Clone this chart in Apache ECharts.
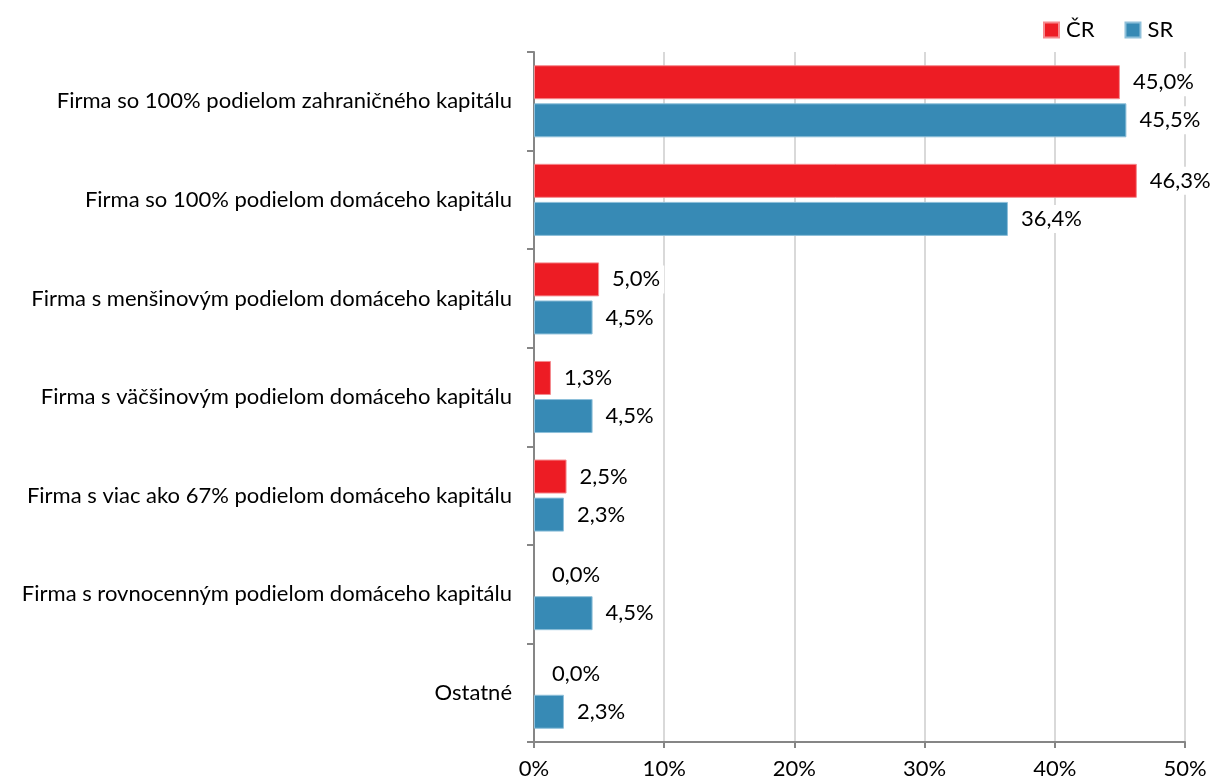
<!DOCTYPE html>
<html>
<head>
<meta charset="utf-8">
<script src="https://cdn.jsdelivr.net/npm/echarts@6/dist/echarts.min.js"></script>
<style>
  html, body { margin: 0; padding: 0; background: #fff; }
  #chart { width: 1215px; height: 782px; }
</style>
</head>
<body>
<div id="chart"></div>
<script>
// kategórie (zhora nadol)
var categories = [
  'Firma so 100% podielom zahraničného kapitálu',
  'Firma so 100% podielom domáceho kapitálu',
  'Firma s menšinovým podielom domáceho kapitálu',
  'Firma s väčšinovým podielom domáceho kapitálu',
  'Firma s viac ako 67% podielom domáceho kapitálu',
  'Firma s rovnocenným podielom domáceho kapitálu',
  'Ostatné'
];
var crValues = [45.0, 46.3, 5.0, 1.3, 2.5, 0.0, 0.0];
var srValues = [45.5, 36.4, 4.5, 4.5, 2.3, 4.5, 2.3];
var xTicks = [0, 10, 20, 30, 40, 50];

var font = 'Lato';

var labelStyle = {
  show: true,
  position: 'right',
  distance: 9,
  color: '#000',
  fontFamily: font,
  fontSize: 22,
  backgroundColor: '#fff',
  padding: [3, 4],
  formatter: function (p) { return p.value.toFixed(1).replace('.', ',') + '%'; }
};

// nulové hodnoty bez okraja
function toItems(arr) {
  return arr.map(function (v) {
    return v === 0 ? { value: v, itemStyle: { borderWidth: 0 }, label: { distance: 14 } } : v;
  });
}

var myChart = echarts.init(document.getElementById('chart'));
var option = {
  animation: false,
  legend: {
    top: 14,
    left: 1038,
    itemWidth: 15,
    itemHeight: 15,
    itemGap: 30,
    icon: 'rect',
    textStyle: { fontFamily: font, fontSize: 22, color: '#000', padding: [0, 0, 0, 2] },
    data: ['ČR', 'SR']
  },
  grid: { left: 534, right: 30, top: 52, bottom: 40 },
  xAxis: {
    type: 'value',
    min: 0,
    max: 50,
    interval: 10,
    axisLine: { show: true, lineStyle: { color: '#868686', width: 2 } },
    axisTick: { show: true, length: 6, lineStyle: { color: '#868686', width: 2 } },
    axisLabel: {
      fontFamily: font, fontSize: 22, color: '#000', margin: 16,
      formatter: function (v) { return xTicks.indexOf(v) >= 0 ? v + '%' : ''; }
    },
    splitLine: { show: true, lineStyle: { color: '#d9d9d9', width: 2 } }
  },
  yAxis: {
    type: 'category',
    inverse: true,
    data: categories,
    axisLine: { show: true, lineStyle: { color: '#868686', width: 2 } },
    axisTick: { show: true, length: 7, lineStyle: { color: '#868686', width: 2 } },
    axisLabel: { fontFamily: font, fontSize: 22, color: '#000', margin: 22 }
  },
  series: [
    {
      name: 'ČR',
      type: 'bar',
      data: toItems(crValues),
      barWidth: 34,
      barGap: '12%',
      itemStyle: { color: '#ed1c24', borderColor: '#f58a8e', borderWidth: 1 },
      label: labelStyle
    },
    {
      name: 'SR',
      type: 'bar',
      data: toItems(srValues),
      barWidth: 34,
      itemStyle: { color: '#378ab5', borderColor: '#8fc0da', borderWidth: 1 },
      label: labelStyle
    }
  ]
};
myChart.setOption(option);
</script>
</body>
</html>
